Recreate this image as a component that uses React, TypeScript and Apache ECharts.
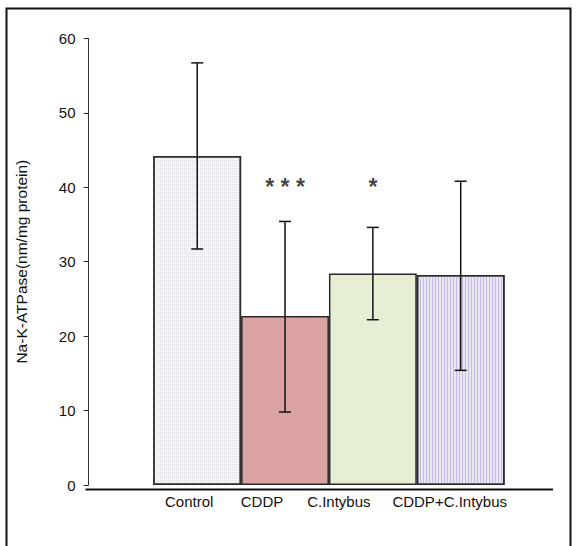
import React, { useEffect, useRef } from "react";
import * as echarts from "echarts";

const categories = ["Control", "CDDP", "C.Intybus", "CDDP+C.Intybus"];
const meanValues = [44.2, 22.7, 28.4, 28.2];
const upperValues = [56.7, 35.4, 34.6, 40.8];
const lowerValues = [31.7, 9.8, 22.2, 15.4];
const sigLabels = ["", "* * *", "*", ""];
const sigLevel = [null, 40.0, 40.0, null];
const yTicks = [0, 10, 20, 30, 40, 50, 60];

const barColors = ["#f8f8f8", "#dba2a2", "#e6eed4", "#ebe6f4"];
const barDecals: any[] = [
  { symbol: "rect", symbolSize: 1, dashArrayX: [1, 1], dashArrayY: [1, 1], color: "#dcdce0" },
  null,
  null,
  { symbol: "rect", symbolSize: 1, dashArrayX: [1, 2], dashArrayY: [1, 0], color: "#c6bade" },
];
const labelShift = [16, 46, 68, 22];

export default function App() {
  const ref = useRef<HTMLDivElement>(null);
  useEffect(() => {
    if (!ref.current) return;
    const chart = echarts.init(ref.current, null, { renderer: "svg" });
    const font = "'Liberation Sans', Arial, sans-serif";
    const rich: any = {};
    categories.forEach((c, i) => {
      rich["c" + i] = {
        fontSize: 15,
        fontFamily: font,
        color: "#111",
        padding: [0, labelShift[i], 0, 0],
      };
    });
    chart.setOption({
      animation: false,
      backgroundColor: "#ffffff",
      grid: { left: 153.3, right: 73.4, top: 38.3, bottom: 61 },
      xAxis: {
        type: "category",
        data: categories,
        axisLine: { show: false },
        axisTick: { show: false },
        axisLabel: {
          interval: 0,
          margin: 9,
          formatter: (v: string, i: number) => `{c${i}|${v}}`,
          rich,
        },
      },
      yAxis: {
        type: "value",
        min: yTicks[0],
        max: yTicks[yTicks.length - 1],
        interval: 10,
        offset: 64.8,
        name: "Na-K-ATPase(nm/mg protein)",
        nameLocation: "middle",
        nameGap: 59,
        nameTextStyle: { fontSize: 15.5, fontFamily: font, color: "#111" },
        splitLine: { show: false },
        axisLine: { show: true, lineStyle: { color: "#333", width: 1 } },
        axisTick: { show: true, length: 5, lineStyle: { color: "#333" } },
        axisLabel: { margin: 13, fontSize: 15, fontFamily: font, color: "#111" },
      },
      series: [
        {
          type: "bar",
          barCategoryGap: "0%",
          data: meanValues.map((v, i) => ({
            value: v,
            itemStyle: barDecals[i]
              ? { color: barColors[i], decal: barDecals[i] }
              : { color: barColors[i] },
          })),
          itemStyle: { borderColor: "#2a2a2a", borderWidth: 1.5 },
          z: 2,
        },
        {
          type: "custom",
          z: 5,
          data: categories.map((c, i) => [i, lowerValues[i], upperValues[i]]),
          renderItem: (params: any, api: any) => {
            const x = api.value(0);
            const pHi = api.coord([x, api.value(2)]);
            const pLo = api.coord([x, api.value(1)]);
            const hw = 6;
            const st = { stroke: "#111", lineWidth: 1.5 };
            return {
              type: "group",
              children: [
                { type: "line", shape: { x1: pHi[0], y1: pHi[1], x2: pLo[0], y2: pLo[1] }, style: st },
                { type: "line", shape: { x1: pHi[0] - hw, y1: pHi[1], x2: pHi[0] + hw, y2: pHi[1] }, style: st },
                { type: "line", shape: { x1: pLo[0] - hw, y1: pLo[1], x2: pLo[0] + hw, y2: pLo[1] }, style: st },
              ],
            };
          },
        },
        {
          type: "scatter",
          symbolSize: 0,
          z: 6,
          data: sigLevel.map((v, i) => (v == null ? [i, null] : [i, v])),
          label: {
            show: true,
            position: "inside",
            formatter: (p: any) => sigLabels[p.dataIndex],
            fontSize: 23,
            fontWeight: "bold",
            fontFamily: font,
            color: "#111",
          },
        },
      ],
      graphic: [
        {
          type: "line",
          shape: { x1: 85.5, y1: 489.5, x2: 553, y2: 489.5 },
          style: { stroke: "#111", lineWidth: 2 },
        },
        {
          type: "rect",
          shape: { x: 6.5, y: 8.5, width: 564, height: 560 },
          style: { stroke: "#111", lineWidth: 2, fill: "none" },
          silent: true,
        },
      ],
    });
    return () => chart.dispose();
  }, []);
  return (
    <div
      ref={ref}
      style={{ position: "fixed", left: 0, top: 0, width: 578, height: 546 }}
    />
  );
}
